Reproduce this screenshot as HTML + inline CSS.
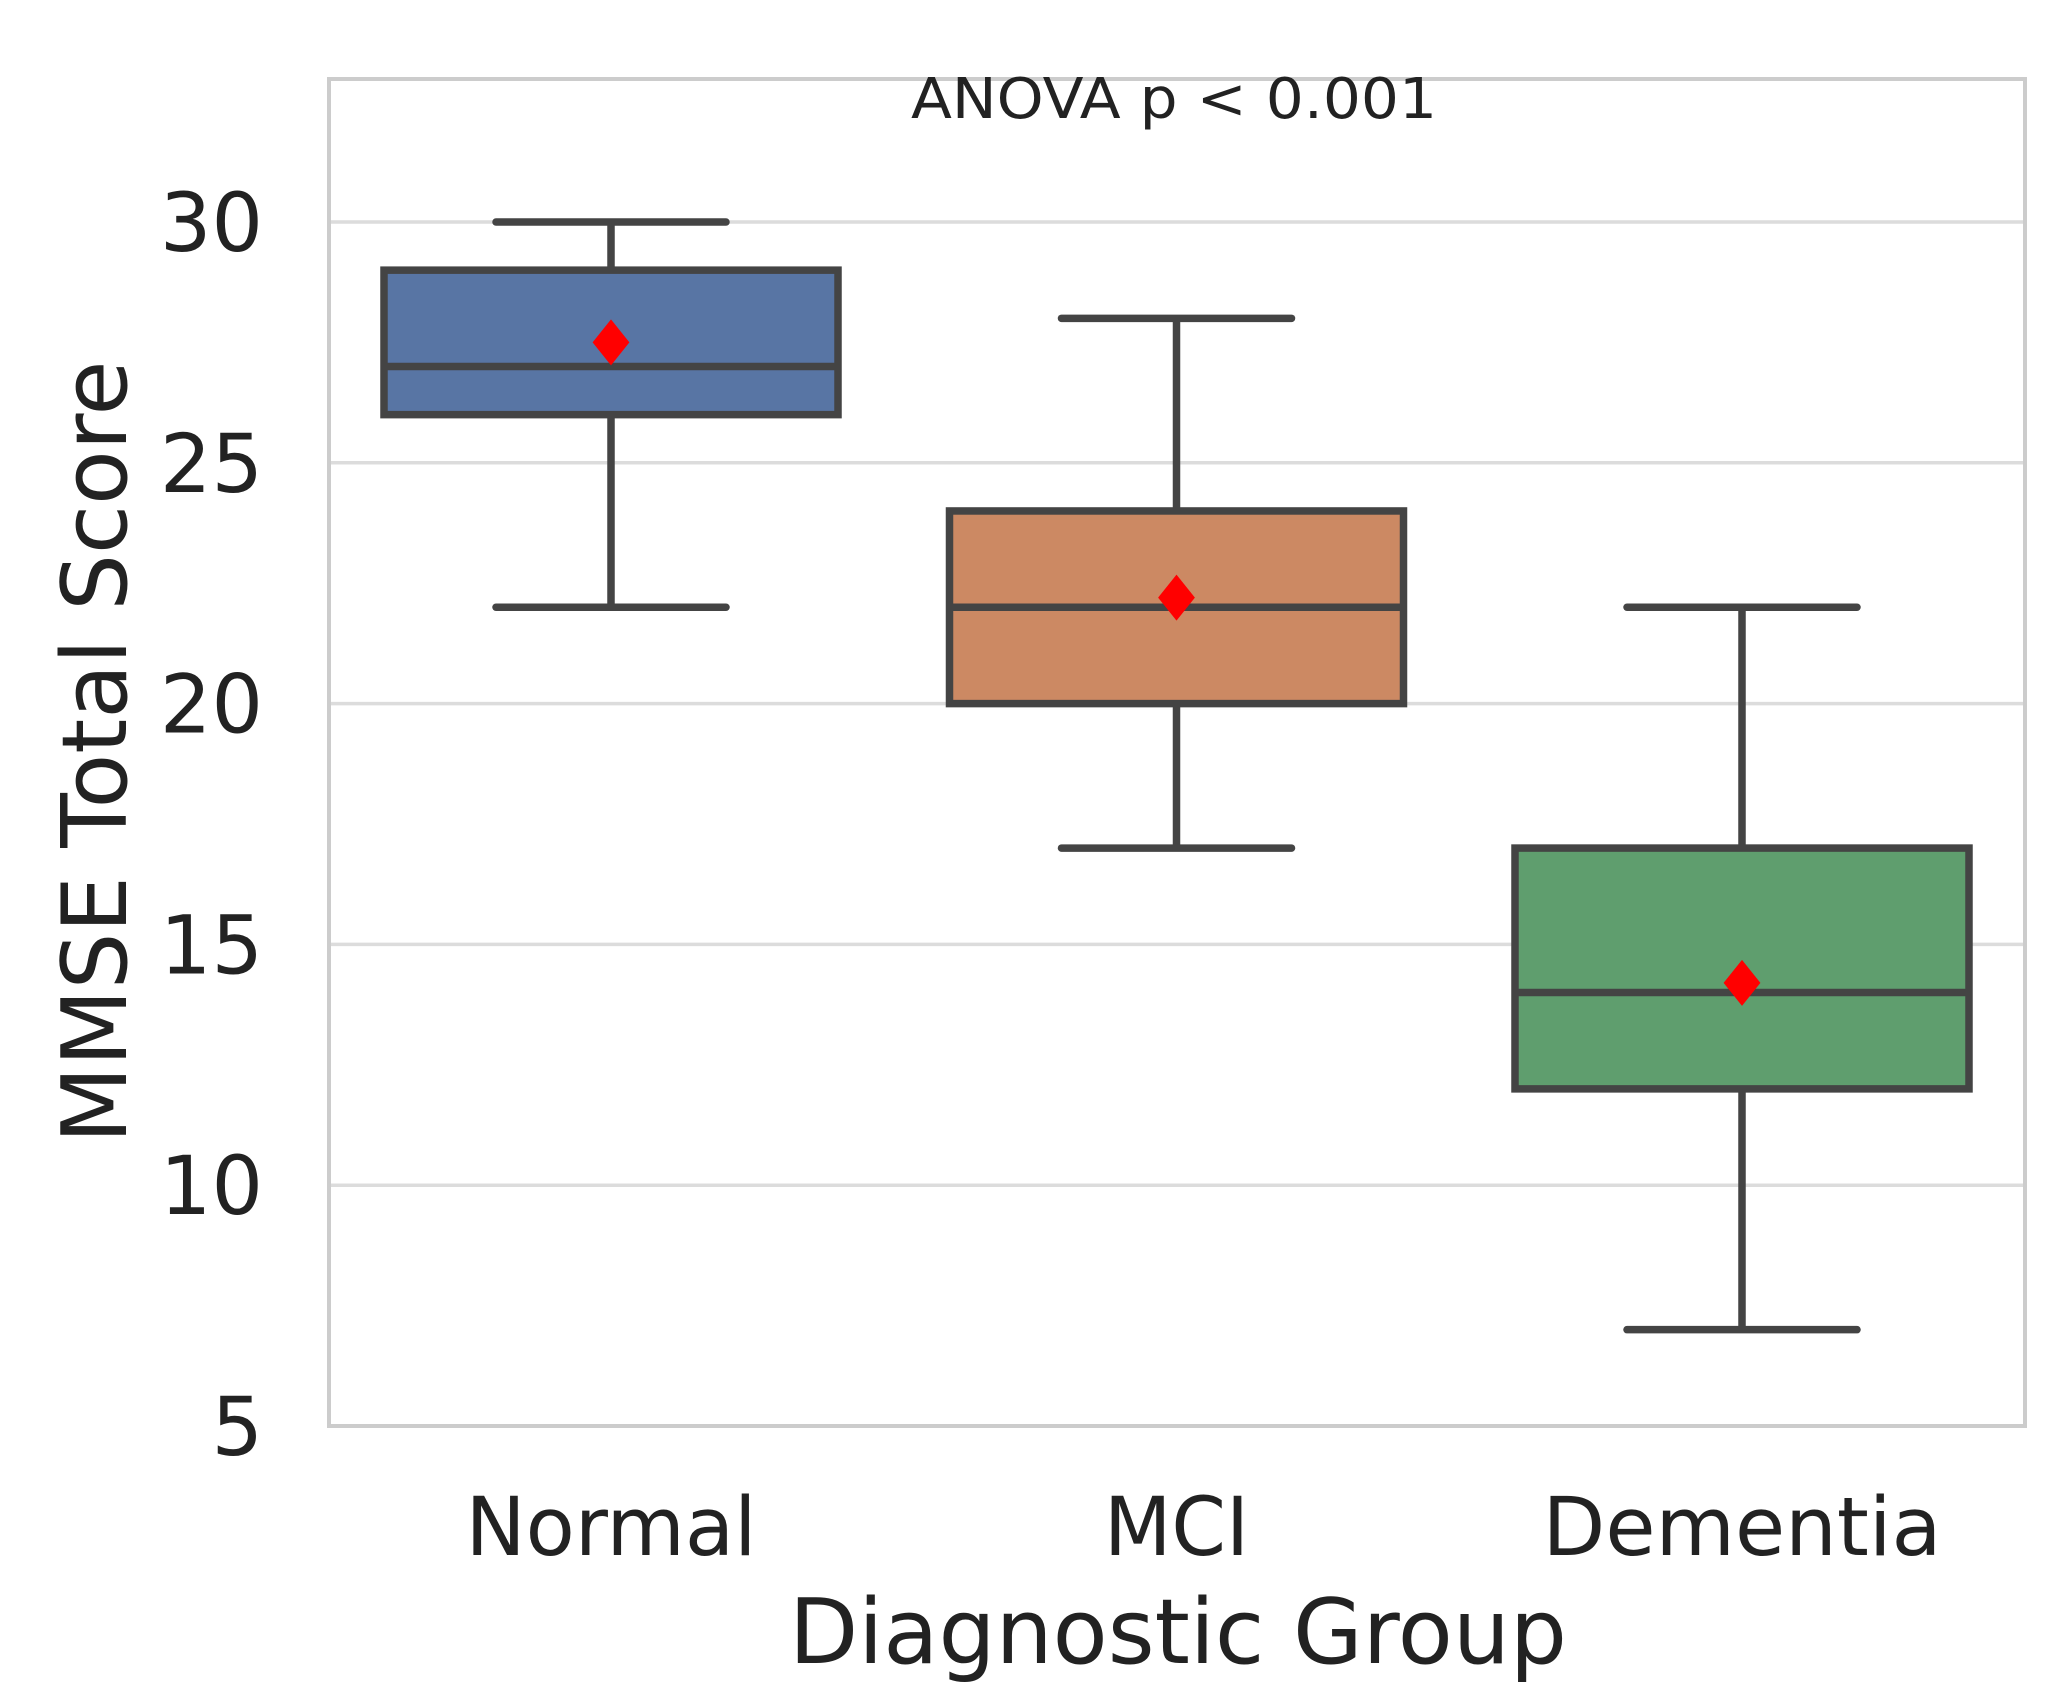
<!DOCTYPE html>
<html><head><meta charset="utf-8"><style>
html,body{margin:0;padding:0;background:#fff;}
svg{display:block;font-family:"DejaVu Sans","Liberation Sans",sans-serif;}
</style></head><body>
<svg id="chart" width="2061" height="1701" viewBox="0 0 2061 1701" xmlns="http://www.w3.org/2000/svg">
<rect x="0" y="0" width="2061" height="1701" fill="#fff"/>
<g id="grid"></g>
<g id="boxes"></g>
<g id="yticks"></g>
<g id="xticks"></g>
<rect x="329" y="79" width="1696" height="1347" fill="none" stroke="#cccccc" stroke-width="4"/>
<text x="1174" y="118" font-size="56" text-anchor="middle" textLength="526" lengthAdjust="spacingAndGlyphs" fill="#222">ANOVA p &lt; 0.001</text>
<text x="1178" y="1663" font-size="90" text-anchor="middle" textLength="778" lengthAdjust="spacingAndGlyphs" fill="#222">Diagnostic Group</text>
<text transform="translate(126,752) rotate(-90)" font-size="90" text-anchor="middle" textLength="783" lengthAdjust="spacingAndGlyphs" fill="#222">MMSE Total Score</text>
</svg>
<script>
const categories = ["Normal", "MCI", "Dementia"];
const whiskerLow = [22, 17, 7];
const q1 = [26, 20, 12];
const medians = [27, 22, 14];
const q3 = [29, 24, 17];
const whiskerHigh = [30, 28, 22];
const means = [27.5, 22.2, 14.2];
const yTicks = [5, 10, 15, 20, 25, 30];
const colors = ["#5875a4", "#cc8963", "#5f9e6e"];

const NS = "http://www.w3.org/2000/svg";
const plotL = 329, plotR = 2025;
function yScale(v){ return 1426 - (v - 5) * 48.16; }
function xScale(i){ return 611 + i * 565.5; }
function mk(tag, attrs, parent){
  const e = document.createElementNS(NS, tag);
  for (const k in attrs) e.setAttribute(k, attrs[k]);
  parent.appendChild(e); return e;
}
const grid = document.getElementById('grid');
const yt = document.getElementById('yticks');
yTicks.forEach(t => {
  const y = yScale(t);
  if (t !== 5) {
    const l = mk('line', {x1: plotL, x2: plotR, y1: y, y2: y, stroke: '#dcdcdc', 'stroke-width': 3.5}, grid);
    
    
  }
  const tx = mk('text', {x: 263, y: y + 29, 'font-size': 81, 'text-anchor': 'end', fill: '#222'}, yt);
  tx.textContent = t;
  
  
});
const bx = document.getElementById('boxes');
const xt = document.getElementById('xticks');
const xw = [291, 145, 399];
categories.forEach((c, i) => {
  const cx = xScale(i), hw = 227, cap = 115, st = '#444', sw = 7.5;
  const g = mk('g', {}, bx);
  
  
  mk('line', {x1: cx, x2: cx, y1: yScale(whiskerHigh[i]), y2: yScale(q3[i]), stroke: st, 'stroke-width': sw}, g);
  mk('line', {x1: cx, x2: cx, y1: yScale(q1[i]), y2: yScale(whiskerLow[i]), stroke: st, 'stroke-width': sw}, g);
  mk('line', {x1: cx - cap, x2: cx + cap, y1: yScale(whiskerHigh[i]), y2: yScale(whiskerHigh[i]), stroke: st, 'stroke-width': sw, 'stroke-linecap': 'round'}, g);
  mk('line', {x1: cx - cap, x2: cx + cap, y1: yScale(whiskerLow[i]), y2: yScale(whiskerLow[i]), stroke: st, 'stroke-width': sw, 'stroke-linecap': 'round'}, g);
  mk('rect', {x: cx - hw, y: yScale(q3[i]), width: hw * 2, height: yScale(q1[i]) - yScale(q3[i]), fill: colors[i], stroke: st, 'stroke-width': sw}, g);
  mk('line', {x1: cx - hw, x2: cx + hw, y1: yScale(medians[i]), y2: yScale(medians[i]), stroke: st, 'stroke-width': sw}, g);
  const my = yScale(means[i]), d = 23;
  const m = mk('polygon', {points: `${cx},${my-d} ${cx+d*0.8},${my} ${cx},${my+d} ${cx-d*0.8},${my}`, fill: '#ff0000'}, g);
  
  
  const t = mk('text', {x: cx, y: 1555, 'font-size': 81, 'text-anchor': 'middle', fill: '#222', textLength: xw[i], lengthAdjust: 'spacingAndGlyphs'}, xt);
  t.textContent = c;
  
  
});
</script>
</body></html>
